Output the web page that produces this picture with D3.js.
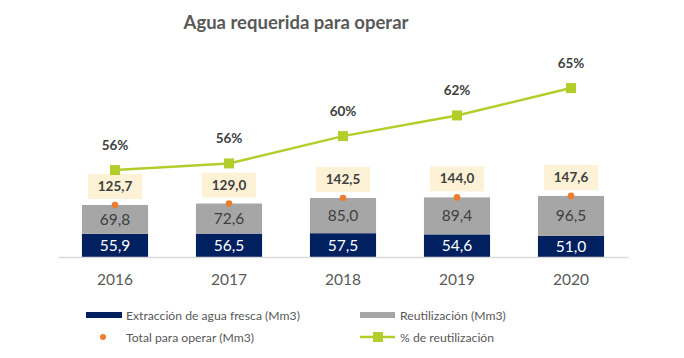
<!DOCTYPE html>
<html>
<head>
<meta charset="utf-8">
<script src="https://cdn.jsdelivr.net/npm/d3@7"></script>
<style>
  body { margin: 0; background: #fff; }
  svg text { font-family: Lato, "Open Sans", sans-serif; }
</style>
</head>
<body>
<svg id="chart" width="684" height="358"></svg>
<script>
// data
const years = ["2016", "2017", "2018", "2019", "2020"];
const extraccion = [55.9, 56.5, 57.5, 54.6, 51.0];
const reutilizacion = [69.8, 72.6, 85.0, 89.4, 96.5];
const total = [125.7, 129.0, 142.5, 144.0, 147.6];
const pctReuso = [0.555, 0.563, 0.596, 0.621, 0.654];
const pctLabels = ["56%", "56%", "60%", "62%", "65%"];

const plotLeft = 58, plotRight = 628, plotBase = 257, plotTop = 50;
const blue = "#002060", gray = "#a6a6a6", orange = "#ed7d31", green = "#b4cd2b";
const fmt = v => v.toFixed(1).replace(".", ",");

const svg = d3.select("#chart");

// scales
const x = d3.scaleBand().domain(years).range([plotLeft, plotRight]).paddingInner(0.42).paddingOuter(0.21);
const y = d3.scaleLinear().domain([0, 500]).range([plotBase, plotTop]);
const y2 = d3.scaleLinear().domain([0.45, 0.70]).range([plotBase, plotTop]);
const cx = d => x(d) + x.bandwidth() / 2;

// title
svg.append("text").attr("x", 296).attr("y", 29).attr("text-anchor", "middle")
  .attr("font-size", 18.5).attr("font-weight", "bold").attr("fill", "#595959")
  .text("Agua requerida para operar");

// stacked bars
const rows = years.map((yr, i) => ({ yr, a: extraccion[i], b: reutilizacion[i], t: total[i], p: pctReuso[i], pl: pctLabels[i] }));

svg.append("g").selectAll("rect").data(rows).join("rect")
  .attr("x", d => x(d.yr)).attr("width", x.bandwidth())
  .attr("y", d => y(d.a)).attr("height", d => plotBase - y(d.a)).attr("fill", blue);

svg.append("g").selectAll("rect").data(rows).join("rect")
  .attr("x", d => x(d.yr)).attr("width", x.bandwidth())
  .attr("y", d => y(d.a + d.b)).attr("height", d => y(d.a) - y(d.a + d.b)).attr("fill", gray);

// segment labels
svg.append("g").selectAll("text").data(rows).join("text")
  .attr("x", d => cx(d.yr)).attr("y", d => (y(d.a) + plotBase) / 2 + 5.5)
  .attr("text-anchor", "middle").attr("font-size", 15.5).attr("fill", "#fff")
  .text(d => fmt(d.a));

svg.append("g").selectAll("text").data(rows).join("text")
  .attr("x", d => cx(d.yr)).attr("y", d => (y(d.a) + y(d.a + d.b)) / 2 + 5.5)
  .attr("text-anchor", "middle").attr("font-size", 15.5).attr("fill", "#404040")
  .text(d => fmt(d.b));

// x axis
const xAxis = svg.append("g").attr("transform", `translate(0,${plotBase})`)
  .call(d3.axisBottom(x).tickSize(0).tickPadding(17));
xAxis.select(".domain").attr("stroke", "#d9d9d9").attr("stroke-width", 1.5);
xAxis.selectAll("text").attr("font-size", 15.5).attr("fill", "#595959")
  .attr("font-family", "Lato, 'Open Sans', sans-serif");

// totals: dot + boxed label
svg.append("g").selectAll("circle").data(rows).join("circle")
  .attr("cx", d => cx(d.yr)).attr("cy", d => y(d.t)).attr("r", 3.3).attr("fill", orange);

const tg = svg.append("g").selectAll("g").data(rows).join("g")
  .attr("transform", d => `translate(${cx(d.yr)},${y(d.t) - 19})`);
tg.append("rect").attr("x", -27).attr("y", -12).attr("width", 54).attr("height", 25).attr("fill", "#fdf2d6");
tg.append("text").attr("text-anchor", "middle").attr("y", 5)
  .attr("font-size", 13.5).attr("font-weight", "bold").attr("fill", "#404040")
  .text(d => fmt(d.t));

// % line
const line = d3.line().x(d => cx(d.yr)).y(d => y2(d.p));
svg.append("path").datum(rows).attr("d", line)
  .attr("fill", "none").attr("stroke", green).attr("stroke-width", 2.5);
svg.append("g").selectAll("rect").data(rows).join("rect")
  .attr("x", d => cx(d.yr) - 5).attr("y", d => y2(d.p) - 5)
  .attr("width", 10).attr("height", 10).attr("fill", green);
svg.append("g").selectAll("text").data(rows).join("text")
  .attr("x", d => cx(d.yr)).attr("y", d => y2(d.p) - 20)
  .attr("text-anchor", "middle").attr("font-size", 13.5).attr("font-weight", "bold").attr("fill", "#404040")
  .text(d => d.pl);

// legend
const lg = svg.append("g").attr("font-size", 12.2).attr("fill", "#595959");
lg.append("rect").attr("x", 86).attr("y", 312).attr("width", 36).attr("height", 6).attr("fill", blue);
lg.append("text").attr("x", 126).attr("y", 320).attr("fill", "#595959").text("Extracción de agua fresca (Mm3)");
lg.append("rect").attr("x", 360).attr("y", 312).attr("width", 35).attr("height", 6).attr("fill", gray);
lg.append("text").attr("x", 400).attr("y", 320).attr("fill", "#595959").text("Reutilización (Mm3)");
lg.append("circle").attr("cx", 103).attr("cy", 337).attr("r", 3).attr("fill", orange);
lg.append("text").attr("x", 126).attr("y", 342).attr("fill", "#595959").text("Total para operar (Mm3)");
lg.append("line").attr("x1", 360).attr("x2", 395).attr("y1", 337).attr("y2", 337).attr("stroke", green).attr("stroke-width", 2.5);
lg.append("rect").attr("x", 373).attr("y", 332).attr("width", 10).attr("height", 10).attr("fill", green);
lg.append("text").attr("x", 400).attr("y", 342).attr("fill", "#595959").text("% de reutilización");
</script>
</body>
</html>
